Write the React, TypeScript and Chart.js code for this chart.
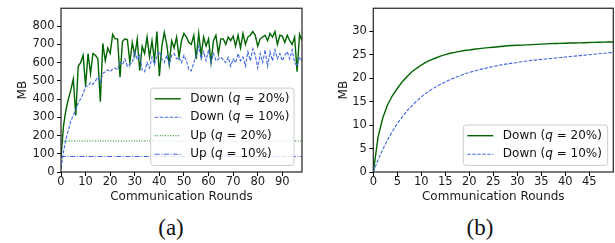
import React, { useEffect, useRef } from 'react';
import { Chart, registerables } from 'chart.js';

Chart.register(...registerables);

const FONT = "'DejaVu Sans', sans-serif";

// ---------- Panel (a) data ----------
const roundsA = Array.from({ length: 99 }, (_, i) => i);
const downA20 = [
  80, 250, 340, 400, 450, 510, 310, 580, 600, 640,
  470, 650, 540, 650, 640, 620, 385, 705, 610, 680,
  650, 755, 730, 730, 520, 715, 730, 725, 600, 710,
  640, 730, 555, 690, 650, 740, 630, 720, 610, 770,
  525, 690, 765, 700, 590, 720, 680, 740, 630, 720,
  760, 740, 710, 700, 750, 620, 760, 640, 740, 690,
  730, 600, 720, 750, 650, 730, 730, 700, 740, 720,
  745, 690, 750, 680, 760, 700, 740, 750, 770, 750,
  690, 730, 740, 750, 720, 760, 740, 770, 700, 750,
  745, 710, 750, 720, 700, 740, 550, 755, 720,
];
const downA10 = [
  20, 110, 180, 230, 280, 310, 340, 380, 400, 430,
  470, 470, 490, 480, 500, 520, 490, 540, 550, 560,
  550, 565, 570, 560, 600, 590, 620, 580, 590, 600,
  660, 620, 640, 560, 550, 600, 570, 630, 590, 640,
  660, 620, 600, 640, 590, 640, 650, 620, 630, 600,
  640, 610, 560, 555, 600, 640, 690, 620, 660, 610,
  670, 600, 650, 610, 620, 630, 615, 600, 630, 580,
  620, 600, 650, 610, 630, 580, 660, 610, 675, 640,
  570, 650, 600, 670, 580, 660, 610, 670, 620, 650,
  610, 640, 660, 620, 670, 600, 580, 630, 610,
];
const upRoundsA = [0, 98];
const upA20 = [170, 170];
const upA10 = [85, 85];
const xTicksA = [0, 10, 20, 30, 40, 50, 60, 70, 80, 90];
const yTicksA = [0, 100, 200, 300, 400, 500, 600, 700, 800];

// ---------- Panel (b) data ----------
const roundsB = Array.from({ length: 51 }, (_, i) => i);
const downB20 = [
  0, 7.5, 11.6, 14.4, 16.3, 17.8, 19.2, 20.3, 21.3, 22.1,
  22.8, 23.4, 23.9, 24.3, 24.7, 25.0, 25.3, 25.5, 25.7, 25.9,
  26.0, 26.15, 26.3, 26.4, 26.5, 26.6, 26.7, 26.8, 26.9, 26.95,
  27.0, 27.05, 27.1, 27.15, 27.2, 27.25, 27.3, 27.35, 27.4, 27.42,
  27.45, 27.48, 27.5, 27.53, 27.56, 27.6, 27.62, 27.65, 27.68, 27.7,
  27.72,
];
const downB10 = [
  0, 2.6, 4.9, 6.9, 8.7, 10.3, 11.7, 13.0, 14.1, 15.1,
  16.0, 16.8, 17.5, 18.1, 18.7, 19.2, 19.7, 20.1, 20.5, 20.9,
  21.2, 21.5, 21.8, 22.0, 22.25, 22.5, 22.7, 22.9, 23.05, 23.2,
  23.35, 23.5, 23.65, 23.8, 23.9, 24.0, 24.1, 24.2, 24.3, 24.4,
  24.5, 24.6, 24.7, 24.8, 24.9, 25.0, 25.1, 25.2, 25.3, 25.4,
  25.45,
];
const xTicksB = [0, 5, 10, 15, 20, 25, 30, 35, 40, 45];
const yTicksB = [0, 5, 10, 15, 20, 25, 30];

const GREEN = '#006400';
const BLUE = '#4169e1';
const UPGREEN = '#008000';

const pts = (xs: number[], ys: number[]) => xs.map((x, i) => ({ x, y: ys[i] }));

type LegendItem = { seg: [string, boolean][]; color: string; dash: number[]; width: number };
type LegendCfg = { items: LegendItem[]; rightGap: number; bottomGap: number; width: number; height: number };

function frameLegendPlugin(lg: LegendCfg) {
  return {
    id: 'frameLegend',
    afterDatasetsDraw(chart: any) {
      const { ctx, chartArea: a } = chart;
      ctx.save();
      ctx.strokeStyle = '#222';
      ctx.lineWidth = 1.2;
      ctx.setLineDash([]);
      ctx.strokeRect(a.left, a.top, a.right - a.left, a.bottom - a.top);

      const bx = a.right - lg.rightGap - lg.width;
      const by = a.bottom - lg.bottomGap - lg.height;
      const r = 3;
      ctx.beginPath();
      ctx.moveTo(bx + r, by);
      ctx.lineTo(bx + lg.width - r, by);
      ctx.quadraticCurveTo(bx + lg.width, by, bx + lg.width, by + r);
      ctx.lineTo(bx + lg.width, by + lg.height - r);
      ctx.quadraticCurveTo(bx + lg.width, by + lg.height, bx + lg.width - r, by + lg.height);
      ctx.lineTo(bx + r, by + lg.height);
      ctx.quadraticCurveTo(bx, by + lg.height, bx, by + lg.height - r);
      ctx.lineTo(bx, by + r);
      ctx.quadraticCurveTo(bx, by, bx + r, by);
      ctx.closePath();
      ctx.fillStyle = 'rgba(255,255,255,0.8)';
      ctx.fill();
      ctx.strokeStyle = '#cccccc';
      ctx.lineWidth = 1;
      ctx.stroke();

      lg.items.forEach((it, i) => {
        const y = by + 10.7 + i * 18.5;
        ctx.beginPath();
        ctx.setLineDash(it.dash);
        ctx.strokeStyle = it.color;
        ctx.lineWidth = it.width;
        ctx.moveTo(bx + 4, y);
        ctx.lineTo(bx + 30, y);
        ctx.stroke();
        ctx.setLineDash([]);
        let x = bx + 39.5;
        ctx.fillStyle = '#111';
        ctx.textBaseline = 'middle';
        ctx.textAlign = 'left';
        it.seg.forEach(([t, ital]) => {
          ctx.font = `${ital ? 'italic ' : ''}12px ${FONT}`;
          ctx.fillText(t, x, y);
          x += ctx.measureText(t).width;
        });
      });
      ctx.restore();
    },
  };
}

type PanelCfg = {
  datasets: any[];
  xMax: number;
  yMax: number;
  xTicks: number[];
  yTicks: number[];
  yAxisWidth: number;
  rightPad: number;
  yTitlePad: number;
  legend: LegendCfg;
};

function Panel({ cfg, left, width }: { cfg: PanelCfg; left: number; width: number }) {
  const ref = useRef<HTMLCanvasElement | null>(null);
  useEffect(() => {
    if (!ref.current) return;
    const tickFont = { family: FONT, size: 11.5, lineHeight: 1 };
    const titleFont = { family: FONT, size: 12 };
    const grid = {
      display: true,
      drawOnChartArea: false,
      drawTicks: true,
      tickLength: 4,
      color: '#000',
      lineWidth: 1,
    };
    const chart = new Chart(ref.current, {
      type: 'line',
      data: { datasets: cfg.datasets },
      options: {
        animation: false,
        responsive: false,
        maintainAspectRatio: false,
        layout: { padding: { top: 4, right: cfg.rightPad, left: 0, bottom: 0 } },
        plugins: { legend: { display: false }, tooltip: { enabled: false } },
        elements: { point: { radius: 0 }, line: { tension: 0 } },
        scales: {
          x: {
            type: 'linear',
            min: 0,
            max: cfg.xMax,
            afterBuildTicks: (s: any) => {
              s.ticks = cfg.xTicks.map((v) => ({ value: v }));
            },
            afterFit: (s: any) => {
              s.height = 38;
            },
            grid,
            border: { display: false },
            ticks: { color: '#1a1a1a', font: tickFont, padding: 0, maxRotation: 0, autoSkip: false },
            title: {
              display: true,
              text: 'Communication Rounds',
              color: '#1a1a1a',
              font: titleFont,
              padding: { top: 0, bottom: 6.1 },
            },
          },
          y: {
            type: 'linear',
            min: 0,
            max: cfg.yMax,
            afterBuildTicks: (s: any) => {
              s.ticks = cfg.yTicks.map((v) => ({ value: v }));
            },
            afterFit: (s: any) => {
              s.width = cfg.yAxisWidth;
            },
            grid,
            border: { display: false },
            ticks: { color: '#1a1a1a', font: tickFont, padding: 2.5, autoSkip: false },
            title: {
              display: true,
              text: 'MB',
              color: '#1a1a1a',
              font: titleFont,
              padding: { top: cfg.yTitlePad, bottom: 0 },
            },
          },
        },
      } as any,
      plugins: [frameLegendPlugin(cfg.legend)],
    });
    return () => chart.destroy();
  }, [cfg]);
  return (
    <canvas
      ref={ref}
      width={width}
      height={210}
      style={{ position: 'absolute', left, top: 0, width, height: 210 }}
    />
  );
}

const line = (label: string, data: any[], color: string, dash: number[], width: number) => ({
  label,
  data,
  borderColor: color,
  backgroundColor: color,
  borderDash: dash,
  borderWidth: width,
  pointRadius: 0,
  fill: false,
});

const DASH = [3.5, 1.5];
const DOT = [1, 1.6];
const DASHDOT = [5, 1.6, 1, 1.6];

const seg20 = (w: string): [string, boolean][] => [[`${w} (`, false], ['q', true], [' = 20%)', false]];
const seg10 = (w: string): [string, boolean][] => [[`${w} (`, false], ['q', true], [' = 10%)', false]];

const cfgA: PanelCfg = {
  datasets: [
    line('Up (q = 10%)', pts(upRoundsA, upA10), BLUE, DASHDOT, 1.1),
    line('Up (q = 20%)', pts(upRoundsA, upA20), UPGREEN, DOT, 1.1),
    line('Down (q = 10%)', pts(roundsA, downA10), BLUE, DASH, 1.1),
    line('Down (q = 20%)', pts(roundsA, downA20), GREEN, [], 1.4),
  ],
  xMax: 98,
  yMax: 898,
  xTicks: xTicksA,
  yTicks: yTicksA,
  yAxisWidth: 61,
  rightPad: 8,
  yTitlePad: 15.3,
  legend: {
    items: [
      { seg: seg20('Down'), color: GREEN, dash: [], width: 1.4 },
      { seg: seg10('Down'), color: BLUE, dash: DASH, width: 1.1 },
      { seg: seg20('Up'), color: UPGREEN, dash: DOT, width: 1.1 },
      { seg: seg10('Up'), color: BLUE, dash: DASHDOT, width: 1.1 },
    ],
    rightGap: 8,
    bottomGap: 6.5,
    width: 143.3,
    height: 77.4,
  },
};

const cfgB: PanelCfg = {
  datasets: [
    line('Down (q = 10%)', pts(roundsB, downB10), BLUE, DASH, 1.1),
    line('Down (q = 20%)', pts(roundsB, downB20), GREEN, [], 1.4),
  ],
  xMax: 50,
  yMax: 34.9,
  xTicks: xTicksB,
  yTicks: yTicksB,
  yAxisWidth: 63.3,
  rightPad: 1.7,
  yTitlePad: 26.8,
  legend: {
    items: [
      { seg: seg20('Down'), color: GREEN, dash: [], width: 1.4 },
      { seg: seg10('Down'), color: BLUE, dash: DASH, width: 1.1 },
    ],
    rightGap: 5.6,
    bottomGap: 6.6,
    width: 144.4,
    height: 40.4,
  },
};

const capStyle = (cx: number): React.CSSProperties => ({
  position: 'absolute',
  left: cx - 50,
  width: 100,
  top: 216,
  textAlign: 'center',
  fontFamily: "'Liberation Serif', serif",
  fontSize: 23,
  lineHeight: '23px',
  color: '#111',
});

export default function App() {
  return (
    <div style={{ position: 'absolute', left: 0, top: 0, width: 615, height: 243, background: '#fff' }}>
      <Panel cfg={cfgA} left={0} width={310} />
      <Panel cfg={cfgB} left={310} width={305} />
      <div style={capStyle(171)}>(a)</div>
      <div style={capStyle(480)}>(b)</div>
    </div>
  );
}
